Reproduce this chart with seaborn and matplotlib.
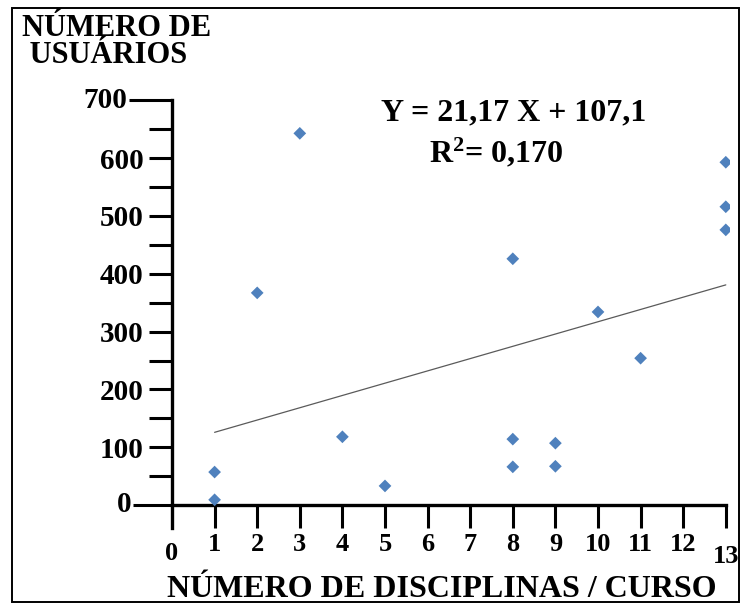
import matplotlib
matplotlib.use("Agg")
import matplotlib.pyplot as plt
import matplotlib.transforms as mtransforms
import pandas as pd
import seaborn as sns
from matplotlib.patches import Rectangle

# values
disciplinas = [1, 1, 2, 3, 4, 5, 8, 8, 8, 9, 9, 10, 11, 13, 13, 13]
usuarios = [57, 9, 367, 643, 118, 33, 426, 114, 66, 107, 67, 334, 254, 593, 516, 476]
x_ticks = list(range(0, 14))
y_major = list(range(0, 701, 100))
y_minor = list(range(50, 701, 100))
equation = "Y = 21,17 X + 107,1"
r2_text = "R$^{2}$= 0,170"

df = pd.DataFrame({"disciplinas": disciplinas, "usuarios": usuarios})

sns.set_theme(style="white")
plt.rcParams["font.family"] = ["Liberation Serif", "DejaVu Serif"]
plt.rcParams["font.weight"] = "bold"
plt.rcParams["text.color"] = "black"
plt.rcParams["xtick.color"] = "black"
plt.rcParams["ytick.color"] = "black"
plt.rcParams["mathtext.fontset"] = "custom"
plt.rcParams["mathtext.rm"] = "Liberation Serif:bold"
plt.rcParams["mathtext.default"] = "rm"

fig = plt.figure(figsize=(7.41, 6.03), dpi=100)
# pixel layout: x=0 at 172 px, 42.6 px per unit; y=0 at 505 px, 0.578 px per unit
ax = fig.add_axes([100 / 741, 73 / 603, 630 / 741, 435 / 603])

sns.regplot(data=df, x="disciplinas", y="usuarios", ax=ax, scatter=False,
            ci=None, line_kws={"color": "#5a5a5a", "lw": 0.9})
sns.scatterplot(data=df, x="disciplinas", y="usuarios", ax=ax, marker="D",
                s=42, color="#4F81BD", edgecolor="none", zorder=3)

ax.set_xlim(-72 / 42.6, 558 / 42.6)
ax.set_ylim(-25 / 0.578, 410 / 0.578)

for side in ("top", "right"):
    ax.spines[side].set_visible(False)
ax.spines["left"].set_position(("data", 0))
ax.spines["bottom"].set_position(("data", 0))
ax.spines["left"].set_bounds(-23 / 0.578, 700)
ax.spines["bottom"].set_bounds(0, 13)
for side in ("left", "bottom"):
    ax.spines[side].set_linewidth(2.4)
    ax.spines[side].set_color("black")

# y axis: long ticks at 0 and 700, labels for those placed by hand
ax.set_yticks(y_major)
ax.set_yticks(y_minor, minor=True)
ax.set_yticklabels([""] + [str(v) for v in y_major[1:-1]] + [""], fontsize=21,
                   fontweight="bold")
ax.tick_params(axis="y", which="both", direction="out", length=16.5, width=2.2,
               pad=4, left=True)
ticks_y = ax.yaxis.get_major_ticks()
ticks_y[0].tick1line.set_markersize(28)
ticks_y[-1].tick1line.set_markersize(31)
ax.text(-41 / 42.6, 0, "0", ha="right", va="center", fontsize=21,
        fontweight="bold")
ax.text(-45 / 42.6, 700, "700", ha="right", va="center", fontsize=21,
        fontweight="bold")

ax.set_xticks(x_ticks)
ax.set_xticklabels([str(v) for v in x_ticks], fontsize=19, fontweight="bold")
ax.tick_params(axis="x", which="major", direction="out", length=16.5, width=2.2,
               pad=4, bottom=True)
ticks_x = ax.xaxis.get_major_ticks()
ticks_x[0].tick1line.set_visible(False)
for tick, drop in ((ticks_x[0], 9), (ticks_x[-1], 12)):
    tick.label1.set_transform(tick.label1.get_transform()
                              + mtransforms.ScaledTranslation(0, -drop / 100,
                                                              fig.dpi_scale_trans))
ax.set_xlabel("")
ax.set_ylabel("")

fig.text(22 / 741, 1 - 14 / 603, "NÚMERO DE\n USUÁRIOS", ha="left", va="top",
         fontsize=22, fontweight="bold", linespacing=0.92)
fig.text(442 / 741, 1 - 604 / 603, "NÚMERO DE DISCIPLINAS / CURSO",
         ha="center", va="bottom", fontsize=23, fontweight="bold")
ax.text(342 / 42.6, 392 / 0.578, equation, ha="center", va="center",
        fontsize=23, fontweight="bold")
ax.text(324 / 42.6, 352 / 0.578, r2_text, ha="center", va="center",
        fontsize=23, fontweight="bold")

fig.patches.append(Rectangle((12 / 741, 1 / 603), 727 / 741, 594 / 603,
                             transform=fig.transFigure, fill=False,
                             edgecolor="black", linewidth=1.4))

fig.savefig("out.png", dpi=100)
